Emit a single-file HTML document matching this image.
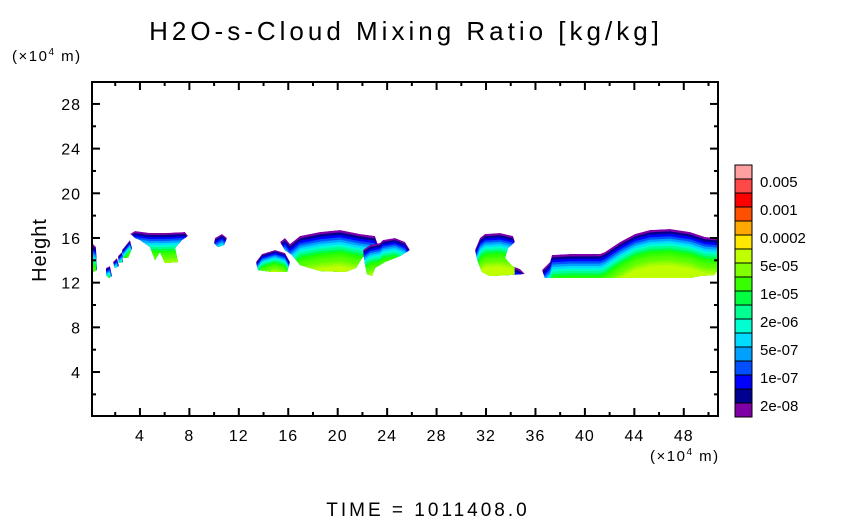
<!DOCTYPE html>
<html><head><meta charset="utf-8"><style>
body{margin:0;background:#fff;width:854px;height:519px;overflow:hidden}
svg{display:block}
text{font-family:"Liberation Sans","DejaVu Sans",sans-serif;fill:#000}
</style></head><body>
<svg id="s" width="854" height="519" xmlns="http://www.w3.org/2000/svg">
<rect width="854" height="519" fill="#fff"/>
<g id="clouds"></g>
<rect x="92" y="82" width="626" height="334" fill="none" stroke="#000" stroke-width="2"/>
<g id="ticks" stroke="#000" stroke-width="2"></g>
<g id="cb"></g>
<text x="406" y="40" font-size="26" text-anchor="middle" letter-spacing="4">H2O-s-Cloud Mixing Ratio [kg/kg]</text>
<text x="12" y="61" font-size="15" letter-spacing="1.5">(×10<tspan font-size="10" dy="-6">4</tspan><tspan dy="6"> m)</tspan></text>
<text x="650" y="461" font-size="15" letter-spacing="1.5">(×10<tspan font-size="10" dy="-6">4</tspan><tspan dy="6"> m)</tspan></text>
<text x="428" y="516" font-size="19" text-anchor="middle" letter-spacing="3">TIME = 1011408.0</text>
<text transform="translate(46,250) rotate(-90)" font-size="20" text-anchor="middle" letter-spacing="1">Height</text>
</svg>
<script>
const NS="http://www.w3.org/2000/svg";
function el(t,a,p){const e=document.createElementNS(NS,t);for(const k in a)e.setAttribute(k,a[k]);p.appendChild(e);return e;}
const s=document.getElementById('s'),tk=document.getElementById('ticks');
const X=u=>90.5+u*12.36, Y=u=>416.7-u*11.17;
for(let u=2;u<=50;u+=2){const x=X(u),L=(u%4==0)?8:4;
 el('line',{x1:x,y1:416,x2:x,y2:416-L},tk);el('line',{x1:x,y1:82,x2:x,y2:82+L},tk);
 if(u%4==0){const t=el('text',{x:x,y:441,'font-size':16,'text-anchor':'middle','letter-spacing':1},s);t.textContent=u;}}
for(let u=2;u<=28;u+=2){const y=Y(u),L=(u%4==0)?8:4;
 el('line',{x1:92,y1:y,x2:92+L,y2:y},tk);el('line',{x1:718,y1:y,x2:718-L,y2:y},tk);
 if(u%4==0){const t=el('text',{x:81,y:y+6,'font-size':16,'text-anchor':'end','letter-spacing':1},s);t.textContent=u;}}
const cols=["#ffa0a0","#ff4848","#ff0000","#ff5000","#ffa800","#ffe800","#c0ff00","#80ff00","#38ff00","#00ff40","#00ff90","#00ffd0","#00dcff","#00a0ff","#0050ff","#0000ff","#000090","#8000a8"];
const cb=document.getElementById('cb');
cols.forEach((c,i)=>{el('rect',{x:735,y:165+i*14,width:17,height:14,fill:c,stroke:"#000","stroke-width":1},cb);});
["0.005","0.001","0.0002","5e-05","1e-05","2e-06","5e-07","1e-07","2e-08"].forEach((l,i)=>{const t=el('text',{x:760,y:187+i*28,'font-size':15},cb);t.textContent=l;});
const band=["#8000a8","#000090","#0000ff","#0050ff","#00a0ff","#00dcff","#00ffd0","#00ff90","#00ff40","#20ff00","#38ff00","#50ff00","#60ff00","#80ff00","#a0ff00","#c0ff00"];
const clouds=[
["92,243 96,247 97,270 93,272 92,272",2.2],
["106,268 110,266 112,276 109,278 106,275",1.2],
["113,262 117,258 119,266 115,268",1.2],
["118,256 122,252 123,262 119,263",1.2],
["122,250 130,240 132,248 128,258 123,258",1.2],
["130,234 135,231 150,233 165,233 185,232 188,236 182,240 175,248 178,262 165,263 160,252 155,260 150,247 140,240 135,238 133,236",2],
["215,238 222,234 227,238 224,245 218,247 214,243",1.8],
["256,262 262,254 275,250 285,253 290,262 287,272 272,272 258,270",1.4],
["280,242 285,238 290,244 300,236 320,232 340,230 360,234 375,236 378,245 370,252 362,258 356,268 345,272 320,271 300,265 292,255 285,250",2.4],
["363,250 370,245 380,243 383,240 395,238 405,242 410,250 400,256 385,262 375,268 372,276 367,274 365,264",2],
["480,238 485,234 500,233 513,236 515,242 508,248 505,258 512,266 520,269 525,274 510,275 490,276 482,272 478,262 475,250",2.2],
["542,270 550,262 552,255 570,254 600,254 605,252 620,242 635,234 650,230 670,229 690,232 705,237 718,238 718,270 714,275 700,276 690,278 545,278",2.4]
];
const g=document.getElementById('clouds');const defs=el('defs',{},g);
clouds.forEach((c,i)=>{const cp=el('clipPath',{id:'c'+i},defs);el('polygon',{points:c[0]},cp);
 const gg=el('g',{'clip-path':'url(#c'+i+')'},g);
 band.forEach((b,j)=>{el('polygon',{points:c[0],fill:b,transform:'translate(0,'+(j*c[1])+')'},gg);});});
</script>
</body></html>
